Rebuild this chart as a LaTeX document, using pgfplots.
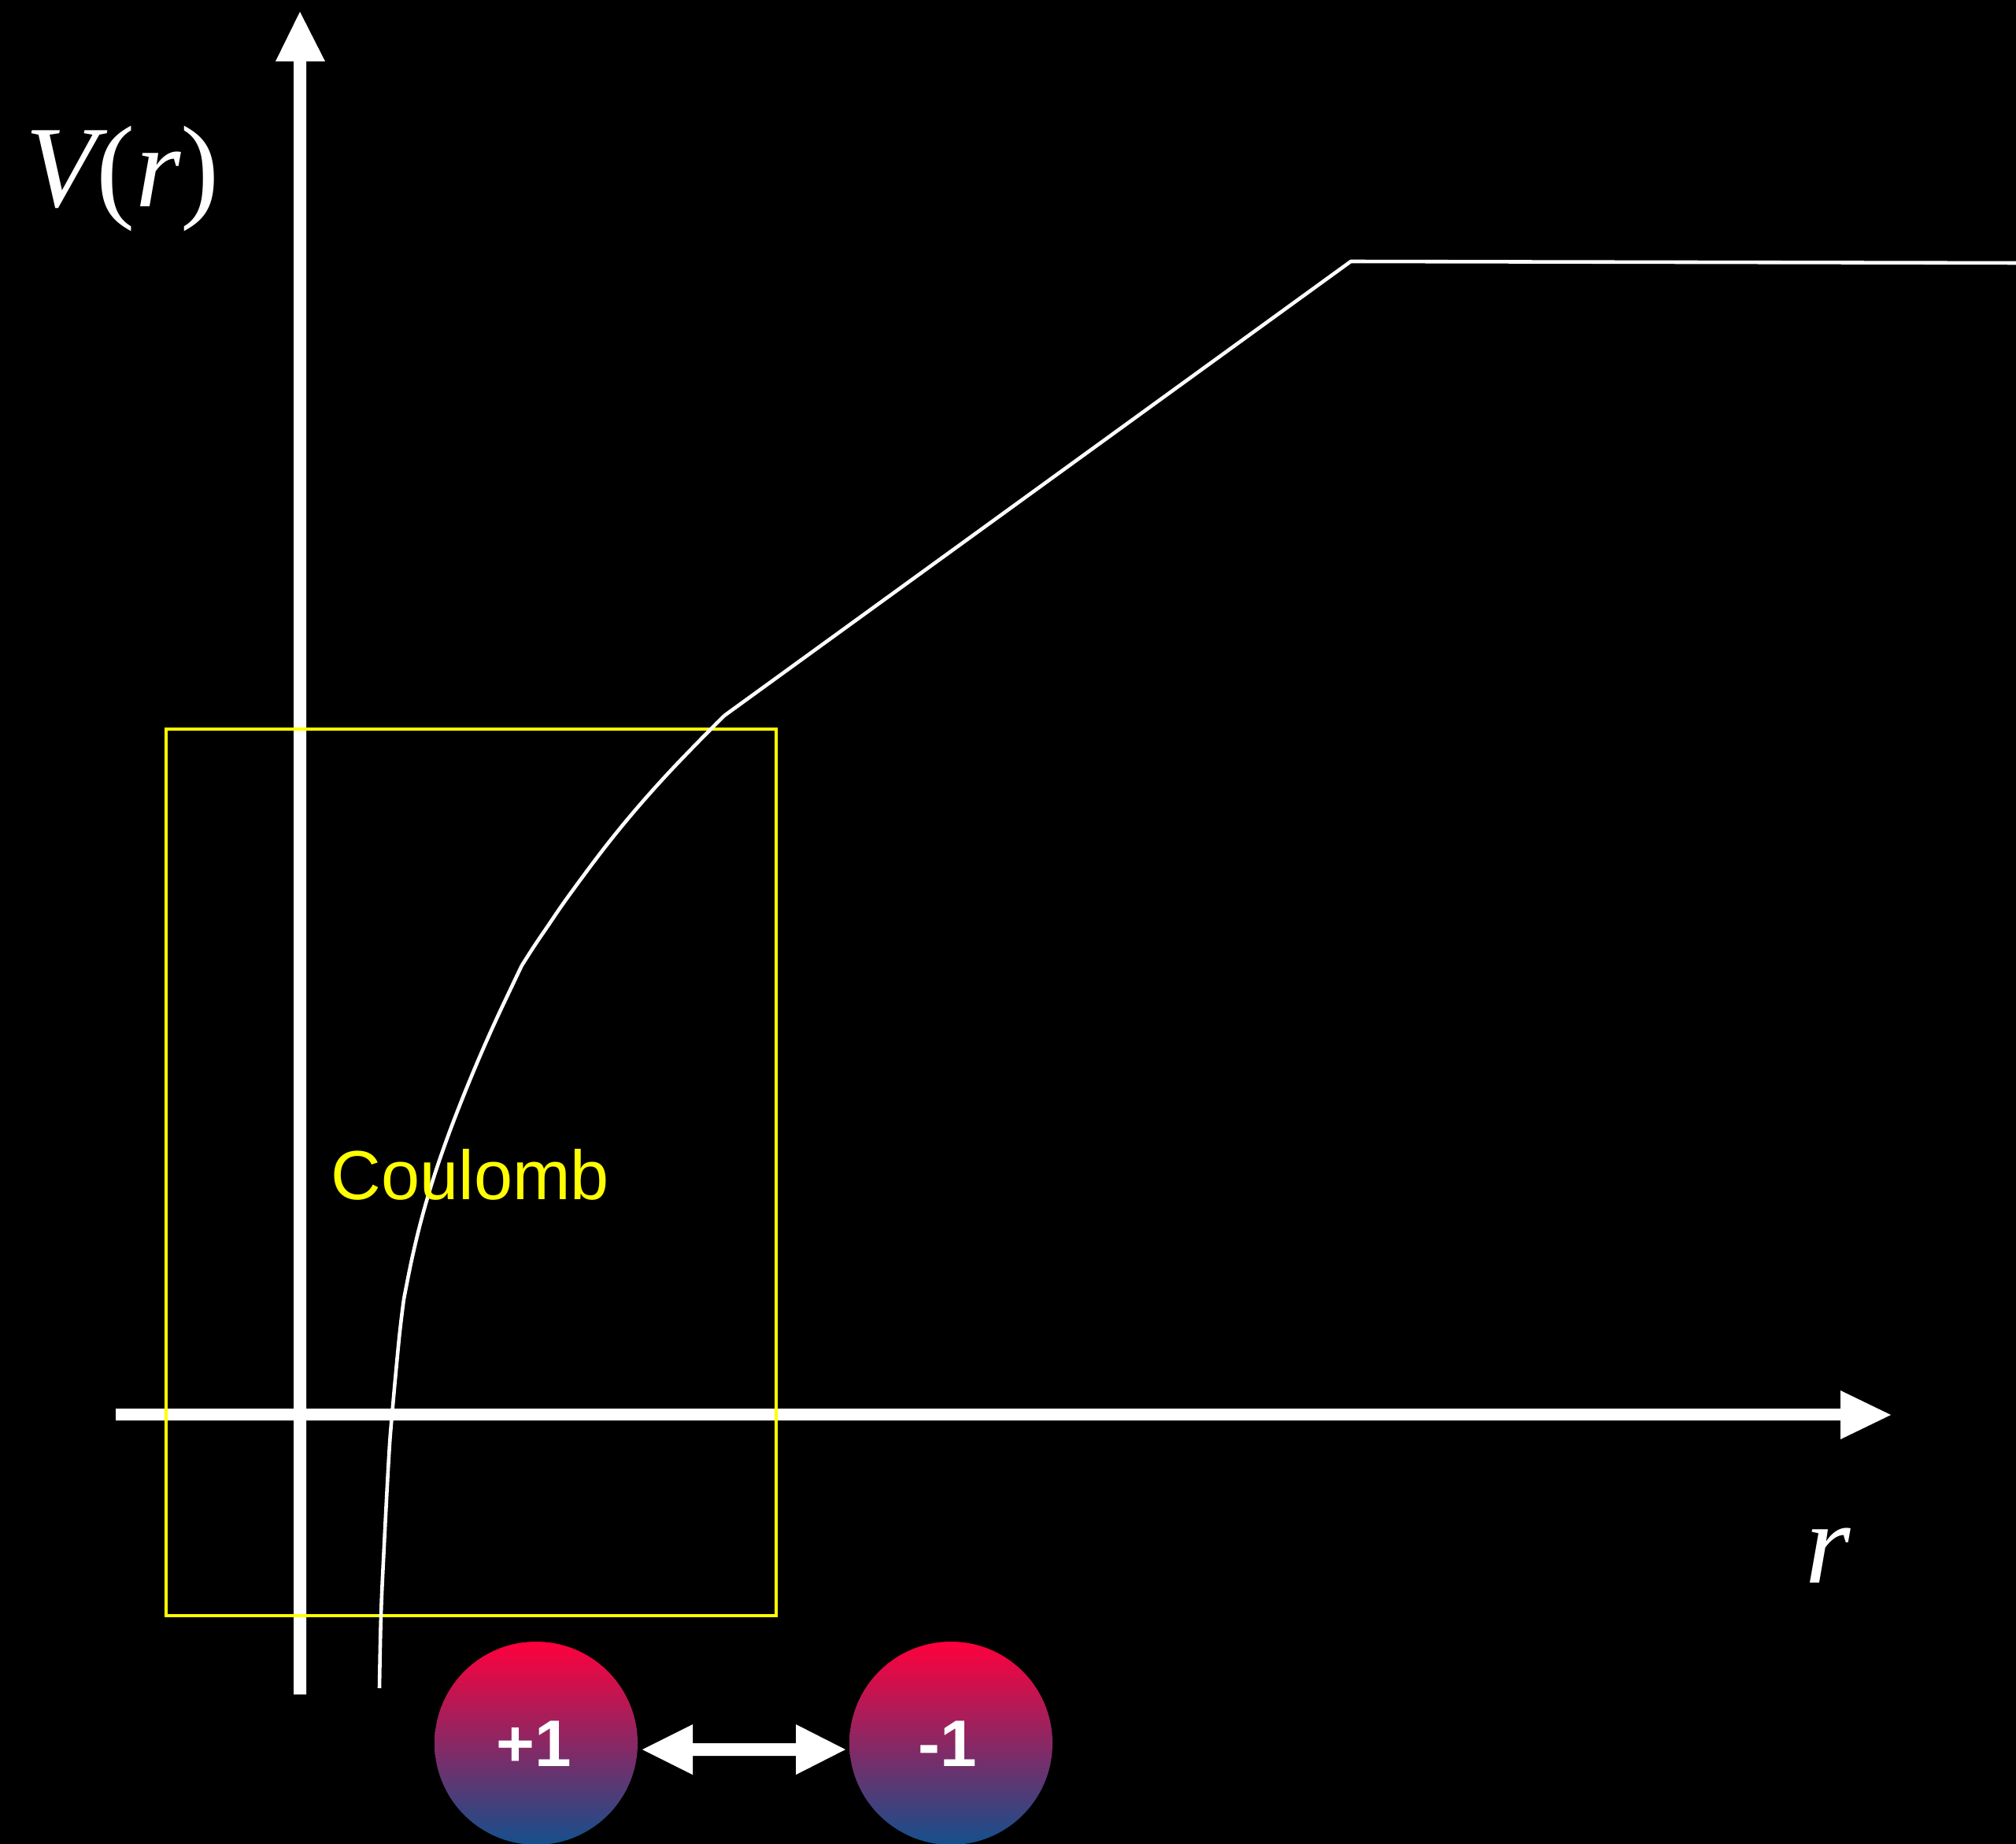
\documentclass[border=0pt]{standalone}
\usepackage{fontspec}
\setmainfont{Liberation Serif}
\newfontfamily\helv{Liberation Sans}
\usepackage{pgfplots}
\pgfplotsset{compat=1.18}
\definecolor{ctop}{RGB}{255,0,60}
\definecolor{cmid}{RGB}{150,52,98}
\definecolor{cbot}{RGB}{20,80,140}
\definecolor{yel}{RGB}{255,255,0}
\begin{document}
\begin{tikzpicture}
\begin{axis}[
  scale only axis, width=25.61cm, height=23.42cm,
  xmin=0, xmax=2561, ymin=0, ymax=2342, y dir=reverse,
  hide axis, clip=true]
% background
\fill[black] (axis cs:0,0) rectangle (axis cs:2561,2342);
% vertical axis arrow
\addplot[fill=white, draw=none] coordinates {
 (373,2152) (373,78) (350,78) (381,15) (413,78) (389,78) (389,2152)} -- cycle;
% horizontal axis arrow
\addplot[fill=white, draw=none] coordinates {
 (147,1789) (2338,1789) (2338,1766) (2402,1797) (2338,1828) (2338,1804) (147,1804)} -- cycle;
% yellow box
\addplot[draw=yel, line width=1.4pt] coordinates {
 (211,926) (986,926) (986,2052) (211,2052)} -- cycle;
% potential curve (three smooth pieces + straight part)
\addplot[white, line width=1.3pt, smooth, tension=0.6] coordinates {
 (482,2144) (484,2051) (488,1963) (494,1850) (498,1797) (507,1700) (513,1650)};
\addplot[white, line width=1.3pt, smooth, tension=0.6] coordinates {
 (513,1650) (523,1600) (535,1550) (549.5,1500) (566.5,1450) (585.5,1400)
 (606,1350) (628,1300) (651.5,1250) (663,1226)};
\addplot[white, line width=1.3pt, smooth, tension=0.6] coordinates {
 (663,1226) (679,1201) (696,1176) (713,1151) (731,1126) (749.5,1101)
 (768.5,1076) (788.5,1051) (809.5,1026) (831.5,1001) (854.5,976) (878.5,951)
 (903,926) (920,909)};
\addplot[white, line width=1.3pt, line join=round] coordinates {
 (920,909) (1716,332) (2561,334)};
% charges
\shade[top color=ctop, middle color=cmid, bottom color=cbot] (axis cs:681,2214) circle[radius=1.29cm];
\shade[top color=ctop, middle color=cmid, bottom color=cbot] (axis cs:1208,2214) circle[radius=1.29cm];
% double arrow
\addplot[fill=white, draw=none] coordinates {
 (816,2222) (880,2190) (880,2214) (1011,2214) (1011,2190) (1074,2222)
 (1011,2254) (1011,2230) (880,2230) (880,2254)} -- cycle;
% texts
\node[anchor=base, inner sep=0, text=white, font=\helv\bfseries\fontsize{23.8pt}{28pt}\selectfont] at (axis cs:678,2243) {+1};
\node[anchor=base, inner sep=0, text=white, font=\helv\bfseries\fontsize{23.8pt}{28pt}\selectfont] at (axis cs:1204,2243) {-1};
\node[anchor=base west, inner sep=0, text=yel, font=\helv\fontsize{25.1pt}{30pt}\selectfont] at (axis cs:420,1523) {Coulomb};
\node[anchor=base west, inner sep=0, text=white, font=\fontsize{42pt}{50pt}\selectfont] at (axis cs:32,263) {{\itshape V}({\itshape r})};
\node[anchor=base, inner sep=0, text=white, font=\fontsize{42pt}{50pt}\selectfont] at (axis cs:2322,2010) {{\itshape r}};
\end{axis}
\end{tikzpicture}
\end{document}
